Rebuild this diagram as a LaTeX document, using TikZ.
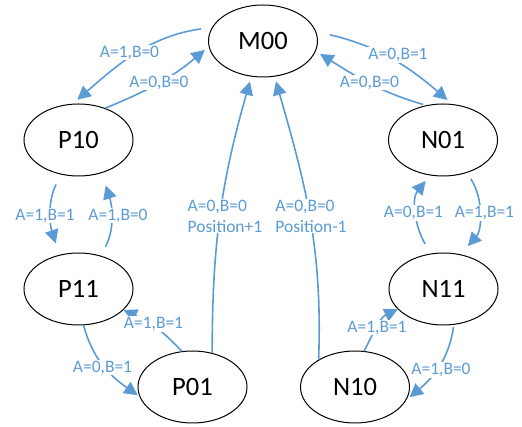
\documentclass[tikz,border=0pt]{standalone}
\usepackage{fontspec}
\setmainfont{Carlito}
\usetikzlibrary{arrows.meta,shapes.geometric}
\definecolor{lblue}{RGB}{91,155,213}
\tikzset{
  state/.style={draw=black, line width=1pt, ellipse, minimum width=109pt, minimum height=72pt, inner sep=0pt, font=\fontsize{26.5}{30}\selectfont},
  conn/.style={draw=lblue, line width=1.6pt, -{Triangle[length=13.5pt,width=13.5pt]}},
  lbl/.style={fill=white, text=lblue, inner sep=1pt, font=\fontsize{17.5}{21}\selectfont}
}
\begin{document}
\begin{tikzpicture}[x=1pt,y=1pt]
\useasboundingbox (0,0) rectangle (522,427);
\node[state] (M00) at (263,386) {M00};
\node[state] (P10) at (78.5,287) {P10};
\node[state] (N01) at (443,287) {N01};
\node[state] (P11) at (78.5,138) {P11};
\node[state] (N11) at (443.5,138) {N11};
\node[state] (P01) at (192.5,40) {P01};
\node[state] (N10) at (355,40) {N10};

\draw[conn, shorten <=11pt, shorten >=6pt] (M00.165) to[out=188, in=41] (P10.99);
\draw[conn, shorten >=5pt] (P10.50) to[out=22, in=220] (M00.186);
\draw[conn, shorten <=14pt, shorten >=6pt] (M00.10) to[out=-13, in=139] (N01.76);
\draw[conn, shorten <=3pt, shorten >=5pt] (N01.116) to[out=164, in=-32] (M00.-11);
\draw[conn, shorten <=11pt, shorten >=12pt] (P10.243) to[out=244, in=108] (P11.119);
\draw[conn, shorten <=10pt, shorten >=13pt] (P11.56) to[out=63, in=-72] (P10.-55);
\draw[conn, shorten <=7pt, shorten >=11pt] (N01.-54) to[out=-57, in=48] (N11.64);
\draw[conn, shorten <=11pt, shorten >=7pt] (N11.110) to[out=120, in=231] (N01.250);
\draw[conn, shorten >=2pt] (P11.-82) to[out=-75, in=145] (P01.190);
\draw[conn] (P01.107) to[out=132, in=-25] (P11.-25);
\draw[conn, shorten <=2pt, shorten >=4pt] (N11.-74) to[out=-98, in=40] (N10.-14);
\draw[conn] (N10.76) to[out=61, in=205] (N11.204);
\draw[conn, shorten >=5pt] (P01.60) to[out=90, in=-106] (M00.-108);
\draw[conn, shorten >=5pt] (N10.143) to[out=88, in=-74] (M00.-72);

\node[lbl] (l1) at (129.5,374.5) {A=1,B=0};
\node[lbl] (l2) at (159,344.5) {A=0,B=0};
\node[lbl] (l3) at (398,372) {A=0,B=1};
\node[lbl] (l4) at (369.5,344.5) {A=0,B=0};
\node[lbl] (l5) at (45,211.5) {A=1,B=1};
\node[lbl] (l6) at (118,211.5) {A=1,B=0};
\node[lbl] (l7) at (484.5,214) {A=1,B=1};
\node[lbl] (l8) at (413.5,214) {A=0,B=1};
\node[lbl] (l9) at (102.5,59.5) {A=0,B=1};
\node[lbl] (l10) at (153.5,103) {A=1,B=1};
\node[lbl] (l11) at (441,57) {A=1,B=0};
\node[lbl] (l12) at (377,99.5) {A=1,B=1};
\node[lbl, align=left] (l13) at (225,211) {A=0,B=0\\Position+1};
\node[lbl, align=left] (l14) at (311,211) {A=0,B=0\\Position-1};
\end{tikzpicture}
\end{document}
